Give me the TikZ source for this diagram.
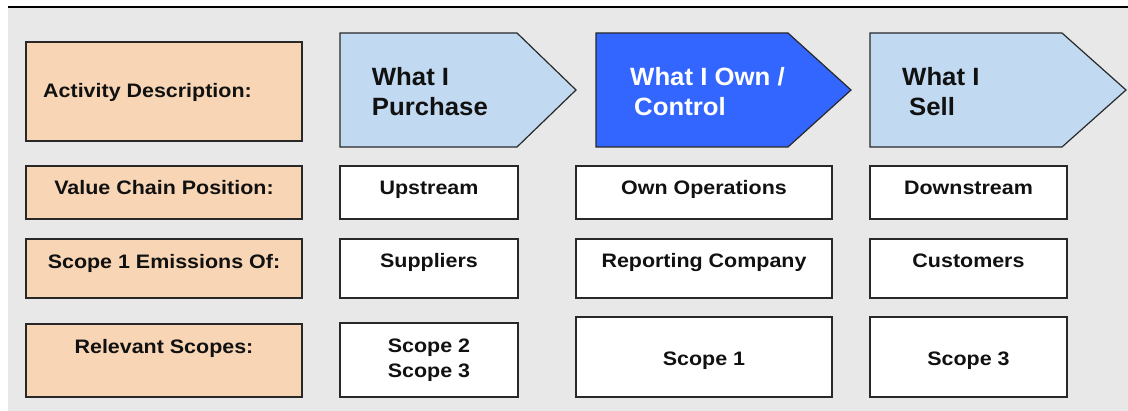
\documentclass[tikz,border=0pt]{standalone}
\usepackage{fontspec}
\newfontfamily\lblfont{Liberation Sans}[FakeStretch=1.1]
\newfontfamily\headfont{Liberation Sans}[FakeStretch=1.03]
\definecolor{panel}{RGB}{232,232,232}
\definecolor{peach}{RGB}{248,214,181}
\definecolor{paleblue}{RGB}{193,218,242}
\definecolor{ownblue}{RGB}{51,102,255}
\definecolor{edge}{RGB}{40,40,40}
\definecolor{ink}{RGB}{17,17,17}
\begin{document}
\begin{tikzpicture}[x=1pt,y=-1pt,
  cell/.style={draw=edge, line width=1.4pt},
  labelcell/.style={cell, fill=peach},
  valcell/.style={cell, fill=white},
  chev/.style={draw=edge, line width=1.2pt, line join=miter},
  small/.style={font=\lblfont\bfseries\fontsize{19.5}{24}\selectfont, text=ink, inner sep=0pt, anchor=base},
  big/.style={font=\headfont\bfseries\fontsize{25}{30}\selectfont, text=ink, inner sep=0pt, anchor=base west}]
\useasboundingbox (0,0) rectangle (1128,411);

% grey panel and rule above it
\fill[panel] (8,8) rectangle (1128,411);
\draw[black, line width=2pt] (8,7.5) -- (1128,7.5);

% row headings column
\draw[labelcell] (26,42) rectangle (302,141);
\draw[labelcell] (26,166) rectangle (302,219);
\draw[labelcell] (26,239) rectangle (302,298);
\draw[labelcell] (26,324) rectangle (302,397);

% chevrons
\draw[chev, fill=paleblue] (340,33) -- (517,33) -- (576,90) -- (517,147) -- (340,147) -- cycle;
\draw[chev, fill=ownblue]  (596,33) -- (788,33) -- (851,90) -- (788,147) -- (596,147) -- cycle;
\draw[chev, fill=paleblue] (870,33) -- (1062,33) -- (1126,90) -- (1062,147) -- (870,147) -- cycle;

% value cells
\draw[valcell] (340,166) rectangle (518,219);
\draw[valcell] (340,239) rectangle (518,298);
\draw[valcell] (340,323) rectangle (518,397);
\draw[valcell] (576,166) rectangle (832,219);
\draw[valcell] (576,239) rectangle (832,298);
\draw[valcell] (576,317) rectangle (832,397);
\draw[valcell] (870,166) rectangle (1067,219);
\draw[valcell] (870,239) rectangle (1067,298);
\draw[valcell] (870,317) rectangle (1067,397);

% headings
\node[small, anchor=base west] (hact) at (43,97.3) {Activity Description:};
\node[small] (hval) at (164,195) {Value Chain Position:};
\node[small] (hsc1) at (164,268.3) {Scope 1 Emissions Of:};
\node[small] (hrel) at (164,353.3) {Relevant Scopes:};

% chevron captions
\node[big] (p1) at (371.7,85.7) {What I};
\node[big] (p2) at (371.7,115.7) {Purchase};
\node[big, text=white] (o1) at (630,85.7) {What I Own /};
\node[big, text=white] (o2) at (634,115.7) {Control};
\node[big] (s1) at (902,85.7) {What I};
\node[big] (s2) at (909,115.7) {Sell};

% upstream column
\node[small] (up)  at (429,195) {Upstream};
\node[small] (sup) at (429,267.7) {Suppliers};
\node[small] (u2)  at (429,352.7) {Scope 2};
\node[small] (u3)  at (429,377.7) {Scope 3};

% own operations column
\node[small] (own) at (704,195) {Own Operations};
\node[small] (rep) at (704,268) {Reporting Company};
\node[small] (o1s) at (704,366) {Scope 1};

% downstream column
\node[small] (down) at (968.5,195) {Downstream};
\node[small] (cus)  at (968.5,268) {Customers};
\node[small] (d3)   at (968.5,366) {Scope 3};
\end{tikzpicture}
\end{document}
